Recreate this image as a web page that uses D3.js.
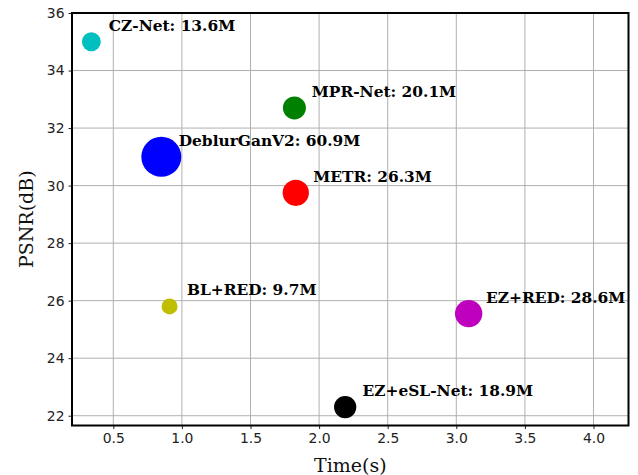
<!DOCTYPE html>
<html>
<head>
<meta charset="utf-8">
<script src="https://cdn.jsdelivr.net/npm/d3@7"></script>
<style>
  body { margin: 0; background: #fff; }
  svg { display: block; }
</style>
</head>
<body>
<svg id="chart"></svg>
<script>
// methods, runtime (s), PSNR (dB), parameters (M)
const methods = ["CZ-Net", "DeblurGanV2", "MPR-Net", "METR", "BL+RED", "EZ+RED", "EZ+eSL-Net"];
const times = [0.34, 0.85, 1.82, 1.83, 0.91, 3.09, 2.19];
const psnr = [35.0, 31.0, 32.7, 29.75, 25.8, 25.55, 22.3];
const params = [13.6, 60.9, 20.1, 26.3, 9.7, 28.6, 18.9];
const colors = ["#00bfbf", "#0000ff", "#008000", "#ff0000", "#bfbf00", "#bf00bf", "#000000"];
const xTicks = [0.5, 1.0, 1.5, 2.0, 2.5, 3.0, 3.5, 4.0];
const yTicks = [22, 24, 26, 28, 30, 32, 34, 36];

const width = 638, height = 475;
const margin = { top: 13, right: 9.5, bottom: 49.5, left: 72 };
const innerW = width - margin.left - margin.right;
const innerH = height - margin.top - margin.bottom;

const data = methods.map((m, i) => ({
  name: m, time: times[i], psnr: psnr[i], params: params[i], color: colors[i]
}));

const svg = d3.select("#chart").attr("width", width).attr("height", height);
const g = svg.append("g").attr("transform", `translate(${margin.left},${margin.top})`);

const xScale = d3.scaleLinear().domain([0.199, 4.255]).range([0, innerW]);
const yScale = d3.scaleLinear().domain([21.66, 36.0]).range([innerH, 0]);
const rScale = d3.scaleSqrt().domain([0, 60.9]).range([0, 20]);

// grid
g.append("g").selectAll("line").data(xTicks).join("line")
  .attr("x1", d => xScale(d)).attr("x2", d => xScale(d))
  .attr("y1", 0).attr("y2", innerH)
  .attr("stroke", "#b0b0b0").attr("stroke-width", 1);
g.append("g").selectAll("line").data(yTicks).join("line")
  .attr("x1", 0).attr("x2", innerW)
  .attr("y1", d => yScale(d)).attr("y2", d => yScale(d))
  .attr("stroke", "#b0b0b0").attr("stroke-width", 1);

// points
g.append("g").selectAll("circle").data(data).join("circle")
  .attr("cx", d => xScale(d.time))
  .attr("cy", d => yScale(d.psnr))
  .attr("r", d => rScale(d.params))
  .attr("fill", d => d.color);

// labels
g.append("g").selectAll("text").data(data).join("text")
  .attr("x", d => xScale(d.time + 0.127))
  .attr("y", d => yScale(d.psnr + 0.38))
  .attr("font-family", "DejaVu Serif")
  .attr("font-weight", "bold")
  .attr("font-size", "15.4px")
  .attr("fill", "#000")
  .text(d => d.name + ": " + d.params + "M");

// axes
const xAxis = g.append("g")
  .attr("transform", `translate(0,${innerH})`)
  .call(d3.axisBottom(xScale).tickValues(xTicks).tickFormat(d3.format(".1f")).tickSizeOuter(0).tickSize(3.5).tickPadding(4));
const yAxis = g.append("g")
  .call(d3.axisLeft(yScale).tickValues(yTicks).tickFormat(d3.format("d")).tickSizeOuter(0).tickSize(3.5).tickPadding(4));
[xAxis, yAxis].forEach(a => {
  a.select(".domain").remove();
  a.selectAll("text").attr("font-family", "DejaVu Sans").attr("font-size", "13.9px").attr("fill", "#222");
  a.selectAll(".tick line").attr("stroke", "#222").attr("stroke-width", 1);
});

// spines
g.append("rect")
  .attr("x", 0).attr("y", 0).attr("width", innerW).attr("height", innerH)
  .attr("fill", "none").attr("stroke", "#000").attr("stroke-width", 2);

// axis titles
svg.append("text")
  .attr("x", margin.left + innerW / 2)
  .attr("y", 472)
  .attr("text-anchor", "middle")
  .attr("font-family", "DejaVu Serif")
  .attr("font-size", "19px")
  .attr("fill", "#111")
  .text("Time(s)");
svg.append("text")
  .attr("transform", `translate(33,${margin.top + innerH / 2}) rotate(-90)`)
  .attr("text-anchor", "middle")
  .attr("font-family", "DejaVu Serif")
  .attr("font-size", "19px")
  .attr("fill", "#111")
  .text("PSNR(dB)");
</script>
</body>
</html>
